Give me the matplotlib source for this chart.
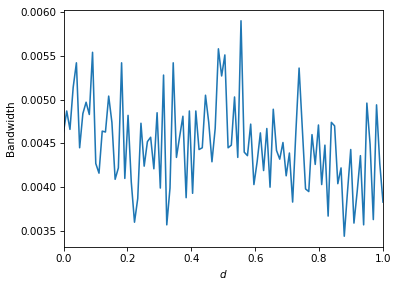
import numpy as np
import matplotlib
matplotlib.use("Agg")
import matplotlib.pyplot as plt

bandwidth = [
    0.00463, 0.00487, 0.00466, 0.00514, 0.00542, 0.00445, 0.00484, 0.00497, 0.00483, 0.00554,
    0.00427, 0.00416, 0.00464, 0.00463, 0.00504, 0.00474, 0.00409, 0.00422, 0.00542, 0.00410,
    0.00482, 0.00406, 0.00360, 0.00387, 0.00473, 0.00424, 0.00452, 0.00457, 0.00421, 0.00485,
    0.00399, 0.00528, 0.00357, 0.00399, 0.00542, 0.00434, 0.00458, 0.00481, 0.00388, 0.00487,
    0.00393, 0.00487, 0.00443, 0.00445, 0.00505, 0.00474, 0.00429, 0.00467, 0.00558, 0.00527,
    0.00551, 0.00445, 0.00448, 0.00503, 0.00434, 0.00590, 0.00440, 0.00436, 0.00472, 0.00403,
    0.00429, 0.00462, 0.00419, 0.00467, 0.00400, 0.00489, 0.00442, 0.00432, 0.00451, 0.00413,
    0.00439, 0.00383, 0.00463, 0.00536, 0.00467, 0.00398, 0.00395, 0.00460, 0.00426, 0.00471,
    0.00403, 0.00448, 0.00367, 0.00474, 0.00470, 0.00404, 0.00422, 0.00344, 0.00395, 0.00443,
    0.00359, 0.00395, 0.00436, 0.00357, 0.00496, 0.00449, 0.00363, 0.00494, 0.00427, 0.00383,
]
d = np.linspace(0, 1, len(bandwidth))

dpi = 75
fig = plt.figure(figsize=(398 / dpi, 285 / dpi), dpi=dpi)
ax = fig.add_axes([63.5 / 398, 1 - 247 / 285, (383 - 63.5) / 398, (247 - 10) / 285])
ax.plot(d, bandwidth, color="#1f77b4", linewidth=1.5)
ax.set_xlim(0, 1)
ax.set_ylim(0.003317, 0.006023)
ax.set_yticks([0.0035, 0.0040, 0.0045, 0.0050, 0.0055, 0.0060])
ax.set_xlabel("$d$")
ax.set_ylabel("Bandwidth")
fig.savefig("out.png", dpi=dpi)
